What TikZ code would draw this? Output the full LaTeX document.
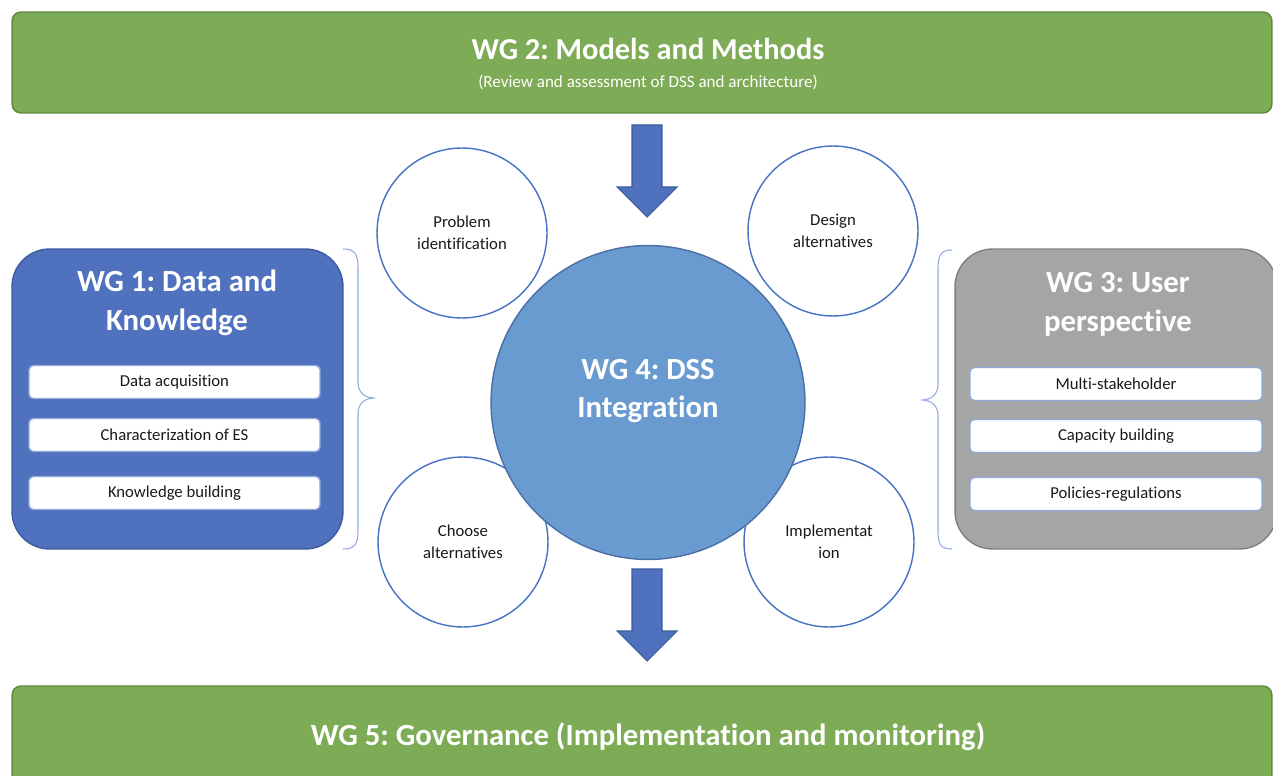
\documentclass[tikz,border=0pt]{standalone}
\usepackage{fontspec}
\setmainfont{Carlito}[Ligatures=NoCommon]
\usetikzlibrary{positioning}
\frenchspacing

\definecolor{wggreen}{HTML}{7EAB55}
\definecolor{wggreenline}{HTML}{5F8A3E}
\definecolor{wgblue}{HTML}{4F71BE}
\definecolor{wgblueline}{HTML}{3D5C9F}
\definecolor{dssblue}{HTML}{6A9BD0}
\definecolor{dssline}{HTML}{4A6FA5}
\definecolor{wggray}{HTML}{A5A5A5}
\definecolor{wggrayline}{HTML}{7F7F7F}
\definecolor{ringblue}{HTML}{4472C4}
\definecolor{paleblue}{HTML}{8FAADC}

\begin{document}
\begin{tikzpicture}[
  x=0.02cm, y=-0.02cm,
  every node/.style={font=\fontsize{9.5}{12.5}\selectfont, text=black!90},
  banner/.style={draw=wggreenline, fill=wggreen, line width=0.8pt, rounded corners=5pt, minimum width=25.2cm},
  wgbox/.style={line width=0.8pt, rounded corners=0.75cm, minimum height=6cm},
  item/.style={draw=paleblue, fill=white, line width=0.8pt, rounded corners=2.5pt, minimum height=0.66cm},
  stage/.style={circle, draw=ringblue, fill=white, line width=0.8pt, minimum size=3.4cm, align=center},
  title/.style={text=white, font=\fontsize{17.5}{22}\selectfont\bfseries, align=center},
  blockarrow/.style={draw=wgblueline, fill=wgblue, line width=0.6pt, line join=miter},
  brace/.style={draw=paleblue, line width=0.6pt}
]
\useasboundingbox (0,0) rectangle (1273,776);
\clip (0,0) rectangle (1273,776);

% WG 2 banner on top
\node[banner, minimum height=2.02cm] (wgtwo) at (642,62.5) {};
\node[title, font=\fontsize{17.3}{20}\selectfont\bfseries] (wgtwotitle) at (648,49) {WG 2: Models and Methods};
\node[text=white, font=\fontsize{9.7}{11}\selectfont] (wgtwosub) at (648,82) {(Review and assessment of DSS and architecture)};

% WG 5 banner at the bottom
\node[banner, minimum height=2.08cm] (wgfive) at (642,738) {};
\node[title, font=\fontsize{17.5}{20}\selectfont\bfseries] (wgfivetitle) at (648,737) {WG 5: Governance (Implementation and monitoring)};

% arrows into and out of the DSS circle
\draw[blockarrow] (632,125) -- (662,125) -- (662,187) -- (677,187) -- (647,217) -- (617,187) -- (632,187) -- cycle;
\draw[blockarrow] (632,569) -- (662,569) -- (662,631) -- (677,631) -- (647,661) -- (617,631) -- (632,631) -- cycle;

% decision stages round the centre
\node[stage] (problem) at (462,233) {Problem\\identification};
\node[stage] (design) at (833,231) {Design\\alternatives};
\node[stage] (choose) at (463,542) {Choose\\alternatives};
\node[stage] (implement) at (829,542) {Implementat\\ion};

% WG 4 in the middle
\node[circle, draw=dssline, fill=dssblue, line width=0.8pt, minimum size=6.28cm] (wgfour) at (648,402.5) {};
\node[title] (wgfourtitle) at (648,391) {WG 4: DSS\\Integration};

% WG 1 on the left
\node[wgbox, draw=wgblueline, fill=wgblue, minimum width=6.62cm] (wgone) at (177.5,399) {};
\node[title] (wgonetitle) at (177,303) {WG 1: Data and\\Knowledge};
\node[item, minimum width=5.82cm] (acquire) at (174.5,382) {Data acquisition};
\node[item, minimum width=5.82cm] (charact) at (174.5,435) {Characterization of ES};
\node[item, minimum width=5.82cm] (knowledge) at (174.5,493) {Knowledge building};

% WG 3 on the right
\node[wgbox, draw=wggrayline, fill=wggray, minimum width=6.44cm] (wgthree) at (1116,399) {};
\node[title] (wgthreetitle) at (1118,304.5) {WG 3: User\\perspective};
\node[item, minimum width=5.84cm] (stakeholder) at (1116,384) {Multi-stakeholder};
\node[item, minimum width=5.84cm] (capacity) at (1116,436) {Capacity building};
\node[item, minimum width=5.84cm] (policies) at (1116,494) {Policies-regulations};

% braces
\draw[brace] (343,249) .. controls (355,249) and (358,254) .. (358,268) -- (358,382)
  .. controls (358,392) and (364,398) .. (375,398)
  .. controls (364,398) and (358,404) .. (358,414) -- (358,530)
  .. controls (358,544) and (355,549) .. (343,549);
\draw[brace] (952,250) .. controls (941,250) and (938,255) .. (938,269) -- (938,384)
  .. controls (938,394) and (932,400) .. (921,400)
  .. controls (932,400) and (938,406) .. (938,416) -- (938,531)
  .. controls (938,545) and (941,549) .. (952,549);

\end{tikzpicture}
\end{document}
